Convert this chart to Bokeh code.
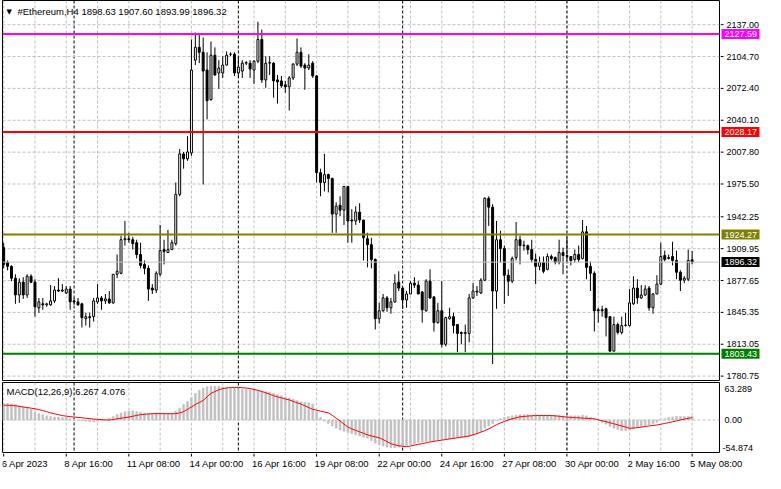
from bokeh.plotting import figure
from bokeh.models import Range1d, FixedTicker, Span, Label, ColumnDataSource
from bokeh.layouts import column, row
from bokeh.embed import file_html
from bokeh.resources import INLINE
from bokeh.core.properties import value

# ---------------- data (H4 bars, 6 Apr 2023 00:00 -> 5 May 2023 08:00) ----------------
open_ = [
    1911, 1896, 1892, 1880, 1863, 1876, 1863, 1882, 1876, 1850,
    1854, 1853, 1853, 1857, 1868, 1867, 1865, 1869, 1857, 1856,
    1854, 1839, 1841, 1841, 1856, 1860, 1857, 1859, 1855, 1884,
    1885, 1919, 1920, 1919, 1916, 1904, 1894, 1890, 1870, 1868,
    1884, 1909, 1906, 1909, 1915, 1965, 2006, 2001, 2007, 2101,
    2114, 2109, 2091, 2061, 2106, 2088, 2088, 2096, 2107, 2107,
    2088, 2090, 2098, 2098, 2091, 2100, 2122, 2081, 2098, 2098,
    2081, 2080, 2076, 2074, 2083, 2097, 2109, 2096, 2093, 2098,
    2085, 1987, 1977, 1985, 1981, 1945, 1954, 1949, 1973, 1939,
    1938, 1947, 1939, 1920, 1914, 1899, 1839, 1847, 1860, 1850,
    1856, 1876, 1870, 1858, 1864, 1875, 1873, 1866, 1847, 1877,
    1861, 1835, 1847, 1813, 1839, 1841, 1833, 1825, 1824, 1824,
    1860, 1866, 1865, 1878, 1961, 1952, 1867, 1919, 1910, 1883,
    1877, 1901, 1919, 1913, 1913, 1909, 1899, 1892, 1896, 1889,
    1902, 1901, 1896, 1906, 1903, 1902, 1899, 1904, 1900, 1927,
    1892, 1885, 1848, 1848, 1849, 1841, 1806, 1833, 1825, 1832,
    1832, 1854, 1870, 1860, 1863, 1870, 1850, 1864, 1874, 1903,
    1900, 1902, 1898, 1886, 1878, 1879, 1898.63,
]
high = [
    1916, 1898, 1893, 1884, 1880, 1881, 1884, 1884, 1879, 1860,
    1860, 1855, 1873, 1872, 1880, 1874, 1872, 1872, 1860, 1860,
    1855, 1845, 1845, 1860, 1874, 1862, 1864, 1867, 1884, 1904,
    1923, 1938, 1926, 1922, 1919, 1916, 1898, 1893, 1874, 1887,
    1934, 1919, 1929, 1919, 1977, 2011, 2008, 2024, 2122, 2129,
    2127, 2124, 2109, 2120, 2114, 2101, 2105, 2110, 2109, 2109,
    2105, 2101, 2100, 2101, 2101, 2140, 2132, 2105, 2105, 2099,
    2086, 2085, 2080, 2085, 2098, 2123, 2114, 2098, 2107, 2100,
    2086, 1991, 2006, 1986, 1982, 1957, 1963, 1973, 1973, 1950,
    1953, 1956, 1939, 1926, 1921, 1900, 1855, 1864, 1862, 1860,
    1884, 1887, 1870, 1867, 1877, 1881, 1877, 1867, 1879, 1889,
    1862, 1855, 1877, 1841, 1850, 1845, 1833, 1826, 1833, 1864,
    1875, 1872, 1880, 1962, 1963, 1955, 1938, 1928, 1913, 1889,
    1902, 1937, 1923, 1918, 1914, 1919, 1905, 1902, 1902, 1905,
    1904, 1902, 1919, 1911, 1921, 1902, 1909, 1913, 1939, 1933,
    1897, 1887, 1850, 1852, 1850, 1841, 1841, 1835, 1841, 1845,
    1869, 1882, 1879, 1873, 1873, 1872, 1865, 1883, 1916, 1908,
    1904, 1917, 1908, 1888, 1882, 1909, 1907.60,
]
low = [
    1890, 1888, 1877, 1854, 1855, 1859, 1860, 1875, 1841, 1845,
    1848, 1851, 1852, 1855, 1866, 1866, 1864, 1848, 1853, 1852,
    1830, 1832, 1830, 1836, 1854, 1848, 1854, 1854, 1854, 1880,
    1884, 1913, 1916, 1909, 1900, 1890, 1884, 1857, 1864, 1865,
    1882, 1894, 1906, 1909, 1913, 1963, 1991, 1999, 2004, 2096,
    2098, 1975, 2041, 2060, 2085, 2072, 2083, 2096, 2105, 2085,
    2083, 2083, 2096, 2083, 2077, 2098, 2078, 2073, 2086, 2063,
    2057, 2073, 2068, 2050, 2081, 2095, 2093, 2071, 2091, 2083,
    1977, 1963, 1968, 1967, 1926, 1926, 1943, 1934, 1916, 1916,
    1934, 1936, 1898, 1891, 1890, 1828, 1834, 1846, 1846, 1844,
    1855, 1867, 1849, 1850, 1864, 1870, 1864, 1835, 1846, 1859,
    1826, 1834, 1810, 1811, 1838, 1824, 1805, 1813, 1805, 1815,
    1859, 1862, 1864, 1877, 1933, 1793, 1849, 1896, 1854, 1862,
    1875, 1898, 1894, 1908, 1904, 1896, 1874, 1888, 1885, 1888,
    1898, 1894, 1894, 1884, 1896, 1893, 1896, 1896, 1899, 1879,
    1867, 1826, 1835, 1841, 1821, 1806, 1806, 1823, 1823, 1831,
    1831, 1853, 1854, 1859, 1862, 1847, 1844, 1864, 1873, 1897,
    1899, 1893, 1879, 1867, 1875, 1877, 1893.99,
]
close = [
    1894, 1892, 1880, 1863, 1876, 1863, 1882, 1876, 1851, 1856,
    1853, 1854, 1857, 1868, 1867, 1868, 1869, 1856, 1856, 1853,
    1840, 1841, 1840, 1857, 1860, 1857, 1859, 1855, 1884, 1887,
    1919, 1920, 1919, 1915, 1904, 1893, 1890, 1869, 1868, 1885,
    1908, 1907, 1909, 1916, 1965, 2006, 2001, 2008, 2091, 2114,
    2109, 2090, 2060, 2106, 2086, 2093, 2096, 2106, 2107, 2088,
    2094, 2098, 2098.5, 2092, 2100, 2122, 2081, 2098, 2098.5, 2080,
    2079, 2075, 2074, 2083, 2097, 2109, 2095, 2093, 2096, 2085,
    1987, 1977, 1985, 1981, 1945, 1953, 1949, 1973, 1938, 1938,
    1947, 1939, 1921, 1914, 1899, 1839, 1847, 1860, 1850, 1856,
    1875, 1870, 1858, 1864, 1875, 1873, 1864, 1848, 1877, 1860,
    1835, 1847, 1813, 1840, 1841, 1832, 1824, 1824, 1825, 1860,
    1867, 1867, 1878, 1961, 1952, 1867, 1919, 1910, 1883, 1877,
    1900, 1919, 1913, 1913.5, 1909, 1899, 1892, 1896, 1887, 1902,
    1900, 1896, 1906, 1903, 1902, 1898, 1904, 1899, 1927, 1891,
    1885, 1847, 1847, 1847, 1840, 1806, 1833, 1825, 1832, 1832.5,
    1855, 1870, 1860, 1863, 1869, 1850, 1864, 1874, 1902, 1899,
    1901, 1898, 1886, 1878, 1880, 1898, 1896.32,
]

macd_hist = [
    27, 28, 27, 26, 24, 22, 20, 18, 14, 11,
    9, 7, 6, 5, 5, 4, 4, 2, 1, 0,
    -1, -2, -3, -3, -2, -1, 0, 3, 6, 9,
    12, 14, 15, 15, 14, 13, 12, 11, 11, 12,
    12, 11, 10, 11, 15, 20, 26, 31, 38, 45,
    50, 54, 56, 57, 57, 57, 56, 55, 54, 54,
    53, 52, 52, 51, 51, 50, 49, 48, 47, 45,
    43, 41, 39, 37, 35, 33, 31, 30, 29, 27,
    14, 4, -2, -6, -10, -14, -17, -19, -21, -23,
    -25, -27, -29, -31, -35, -39, -42, -44, -46, -47,
    -47, -46, -44, -43, -41, -40, -38, -37, -36, -35,
    -35, -34, -33, -33, -32, -31, -30, -30, -29, -28,
    -26, -24, -20, -14, -10, -6, -1, 2, 4, 6,
    7, 8, 9, 9, 9, 8, 8, 8, 8, 8,
    8, 8, 8, 7, 7, 7, 7, 7, 8, 7,
    5, 2, -1, -4, -7, -11, -14, -16, -18, -18,
    -17, -15, -13, -11, -9, -8, -6, -4, 0, 2,
    4, 5, 6, 6, 6, 6, 6.267,
]
macd_signal = [
    25, 24.8, 24.5, 24, 23, 22, 21, 20, 19, 17.5,
    16, 14, 12, 10.5, 9, 7.5, 6.4, 5.7, 5, 4.3,
    3.7, 3, 2.3, 1.6, 1, 0.6, 0.2, 0, 0.8, 2,
    3, 4, 5, 6.3, 7.7, 9, 9.6, 10.2, 10.7, 10.7,
    10.7, 10.7, 10.7, 10.7, 10.7, 12, 14, 18, 22, 26,
    29.5, 33, 39, 45, 48, 51, 53, 54, 55, 55,
    55, 54.5, 54, 53, 51.5, 50, 48, 46, 43.5, 41,
    39, 37.5, 35.5, 34, 31.5, 29, 27, 24, 21, 18,
    16.5, 15, 13.5, 12, 8, 3, -1.6, -7, -12, -15,
    -17.5, -20, -22.5, -25, -27, -28.5, -30, -33, -36.5, -40,
    -42, -43.5, -44.5, -45, -44, -42.5, -41, -40, -38.5, -37,
    -36, -35, -34, -33, -32, -31, -30, -29, -28, -27,
    -25, -23, -20.5, -18, -15, -11.5, -8, -5, -2.5, 0,
    2, 3.8, 5.3, 6, 6.6, 7.1, 7.5, 7.5, 7.5, 7.5,
    7.5, 7, 6.3, 5.5, 4.8, 4.4, 4, 3.6, 3.2, 2.8,
    2.4, 2, 0.3, -1.3, -3, -4.7, -6.4, -8.2, -10, -12,
    -14, -13.5, -13, -12, -11, -10, -9.3, -8.5, -7.2, -5.8,
    -4.4, -3, -1.5, 0, 1.4, 2.7, 4.076,
]

price_ticks = [2137.00, 2104.70, 2072.40, 2040.10, 2007.80, 1975.50,
               1942.25, 1909.95, 1877.65, 1845.35, 1813.05, 1780.75]
level_values = [2127.59, 2028.17, 1924.27, 1803.43]
level_colors = ["#ff00ff", "#ff0000", "#808000", "#008000"]
last_price = 1896.32
title_text = "#Ethereum,H4  1898.63 1907.60 1893.99 1896.32"
macd_text = "MACD(12,26,9) 6.267 4.076"
macd_max = 63.289
macd_min = -54.874
date_labels = ["6 Apr 2023", "8 Apr 16:00", "11 Apr 08:00", "14 Apr 00:00",
               "16 Apr 16:00", "19 Apr 08:00", "22 Apr 00:00", "24 Apr 16:00",
               "27 Apr 08:00", "30 Apr 00:00", "2 May 16:00", "5 May 08:00"]
date_label_bars = [0, 16, 32, 48, 64, 80, 96, 112, 128, 144, 160, 176]
week_separator_bars = [18, 60, 102, 144]
grid_bars = list(range(0, 184, 8))

# ---------------- layout constants ----------------
FONT = "Liberation Sans"
GRID = "#c0c0c0"
MAIN_W = 720          # left border 2 + frame 717 + right border 1
AXIS_W = 45
TOTAL_W = MAIN_W + AXIS_W
FRAME_W = MAIN_W - 3
X0, X1 = -0.3, 183.0
x_range = Range1d(X0, X1)
bars_per_px = (X1 - X0) / FRAME_W
H1, H2, H3 = 381, 72, 20


def bare(fig):
    fig.grid.visible = False
    fig.outline_line_color = None
    fig.background_fill_color = "white"
    fig.border_fill_color = "white"
    return fig


def vgrid(fig):
    for b in grid_bars:
        fig.add_layout(Span(location=b, dimension="height", line_color=GRID,
                            line_dash="3 2", line_width=1, level="underlay"))
    for b in week_separator_bars:
        fig.add_layout(Span(location=b, dimension="height", line_color="black",
                            line_dash="3 2", line_width=1, level="underlay"))


n = len(close)
src = ColumnDataSource(dict(
    x=list(range(n)),
    top=[max(o, c) for o, c in zip(open_, close)],
    bottom=[min(o, c) for o, c in zip(open_, close)],
    high=high[:n],
    low=low[:n],
    fill=["white" if c >= o else "black" for o, c in zip(open_, close)],
))

# ---------------- main price panel ----------------
y1 = Range1d(1776.3, 2161.5)
p1 = figure(width=MAIN_W, height=H1, x_range=x_range, y_range=y1,
            output_backend="svg", toolbar_location=None,
            x_axis_location=None, y_axis_location=None,
            min_border_left=2, min_border_right=1, min_border_top=0, min_border_bottom=1)
bare(p1)
p1.outline_line_color = "black"
p1.outline_line_width = 1
vgrid(p1)
for t in price_ticks:
    p1.add_layout(Span(location=t, dimension="width", line_color=GRID,
                       line_dash="3 2", line_width=1, level="underlay"))
p1.add_layout(Span(location=last_price, dimension="width", line_color=GRID, line_width=1))

p1.segment(x0="x", y0="low", x1="x", y1="high", line_color="black", line_width=1, source=src)
p1.vbar(x="x", width=0.5, top="top", bottom="bottom", fill_color="fill",
        line_color="black", line_width=1, source=src)

for v, c in zip(level_values, level_colors):
    p1.add_layout(Span(location=v, dimension="width", line_color=c, line_width=2))

p1.add_layout(Label(x=4, y=H1 - 1 - 11, x_units="screen", y_units="screen", text="\u25bc",
                    text_font="DejaVu Sans", text_font_size="7px", text_color="black",
                    text_baseline="middle"))
p1.add_layout(Label(x=15, y=H1 - 1 - 11, x_units="screen", y_units="screen", text=title_text,
                    text_font=FONT, text_font_size="9.5px", text_color="black",
                    text_baseline="middle"))

# right price scale
a1 = figure(width=AXIS_W, height=H1, x_range=Range1d(0, AXIS_W), y_range=y1,
            output_backend="svg", toolbar_location=None,
            x_axis_location=None, y_axis_location=None,
            min_border_left=0, min_border_right=0, min_border_top=0, min_border_bottom=1)
bare(a1)
a1.segment(x0=[0] * len(price_ticks), y0=price_ticks, x1=[3] * len(price_ticks),
           y1=price_ticks, line_color="black", line_width=1)
a1.text(x=[6] * len(price_ticks), y=price_ticks, text=[f"{t:.2f}" for t in price_ticks],
        text_font=value(FONT), text_font_size=value("9px"), text_color="black",
        text_align="left", text_baseline="middle")
box_vals = level_values + [last_price]
box_cols = level_colors + ["black"]
a1.rect(x=[20] * len(box_vals), y=box_vals, width=38, height=10, height_units="screen",
        fill_color=box_cols, line_color=box_cols, line_width=0)
a1.text(x=[4] * len(box_vals), y=box_vals, text=[f"{v:.2f}" for v in box_vals],
        text_font=value(FONT), text_font_size=value("9px"), text_color="white",
        text_align="left", text_baseline="middle")

# ---------------- MACD panel ----------------
y2 = Range1d(macd_min, macd_max)
p2 = figure(width=MAIN_W, height=H2, x_range=x_range, y_range=y2,
            output_backend="svg", toolbar_location=None,
            x_axis_location=None, y_axis_location=None,
            min_border_left=2, min_border_right=1, min_border_top=1, min_border_bottom=1)
bare(p2)
p2.outline_line_color = "black"
p2.outline_line_width = 1
vgrid(p2)
p2.add_layout(Span(location=0, dimension="width", line_color=GRID,
                   line_dash="3 2", line_width=1, level="underlay"))
p2.vbar(x=list(range(len(macd_hist))), top=macd_hist, bottom=0, width=0.5,
        fill_color="#c0c0c0", line_color="#c0c0c0", line_width=0.5)
p2.line(x=list(range(len(macd_signal))), y=macd_signal, line_color="#ff0000", line_width=1)
p2.add_layout(Label(x=4, y=H2 - 2 - 9, x_units="screen", y_units="screen", text=macd_text,
                    text_font=FONT, text_font_size="9.5px", text_color="black",
                    text_baseline="middle"))

a2 = figure(width=AXIS_W, height=H2, x_range=Range1d(0, AXIS_W), y_range=y2,
            output_backend="svg", toolbar_location=None,
            x_axis_location=None, y_axis_location=None,
            min_border_left=0, min_border_right=0, min_border_top=1, min_border_bottom=1)
bare(a2)
a2.text(x=[4], y=[macd_max], text=[f"{macd_max:.3f}"], y_offset=3,
        text_font=value(FONT), text_font_size=value("9px"), text_color="black",
        text_align="left", text_baseline="top")
a2.text(x=[4], y=[0], text=["0.00"],
        text_font=value(FONT), text_font_size=value("9px"), text_color="black",
        text_align="left", text_baseline="middle")
a2.text(x=[2], y=[macd_min], text=[f"{macd_min:.3f}"], y_offset=-2,
        text_font=value(FONT), text_font_size=value("9px"), text_color="black",
        text_align="left", text_baseline="bottom")

# ---------------- time scale ----------------
p3 = figure(width=TOTAL_W, height=H3,
            x_range=Range1d(X0, X0 + (TOTAL_W - 2) * bars_per_px), y_range=Range1d(0, H3),
            output_backend="svg", toolbar_location=None,
            x_axis_location=None, y_axis_location=None,
            min_border_left=2, min_border_right=0, min_border_top=0, min_border_bottom=0)
bare(p3)
p3.segment(x0=date_label_bars, y0=[H3] * len(date_label_bars), x1=date_label_bars,
           y1=[H3 - 3] * len(date_label_bars), line_color="black", line_width=1)
p3.text(x=date_label_bars, y=[H3 - 10] * len(date_label_bars), text=date_labels, x_offset=-2,
        text_font=value(FONT), text_font_size=value("9.5px"), text_color="black",
        text_align="left", text_baseline="middle")

layout = column(row(p1, a1), row(p2, a2), p3)
open("out.html", "w").write(file_html(layout, INLINE))
